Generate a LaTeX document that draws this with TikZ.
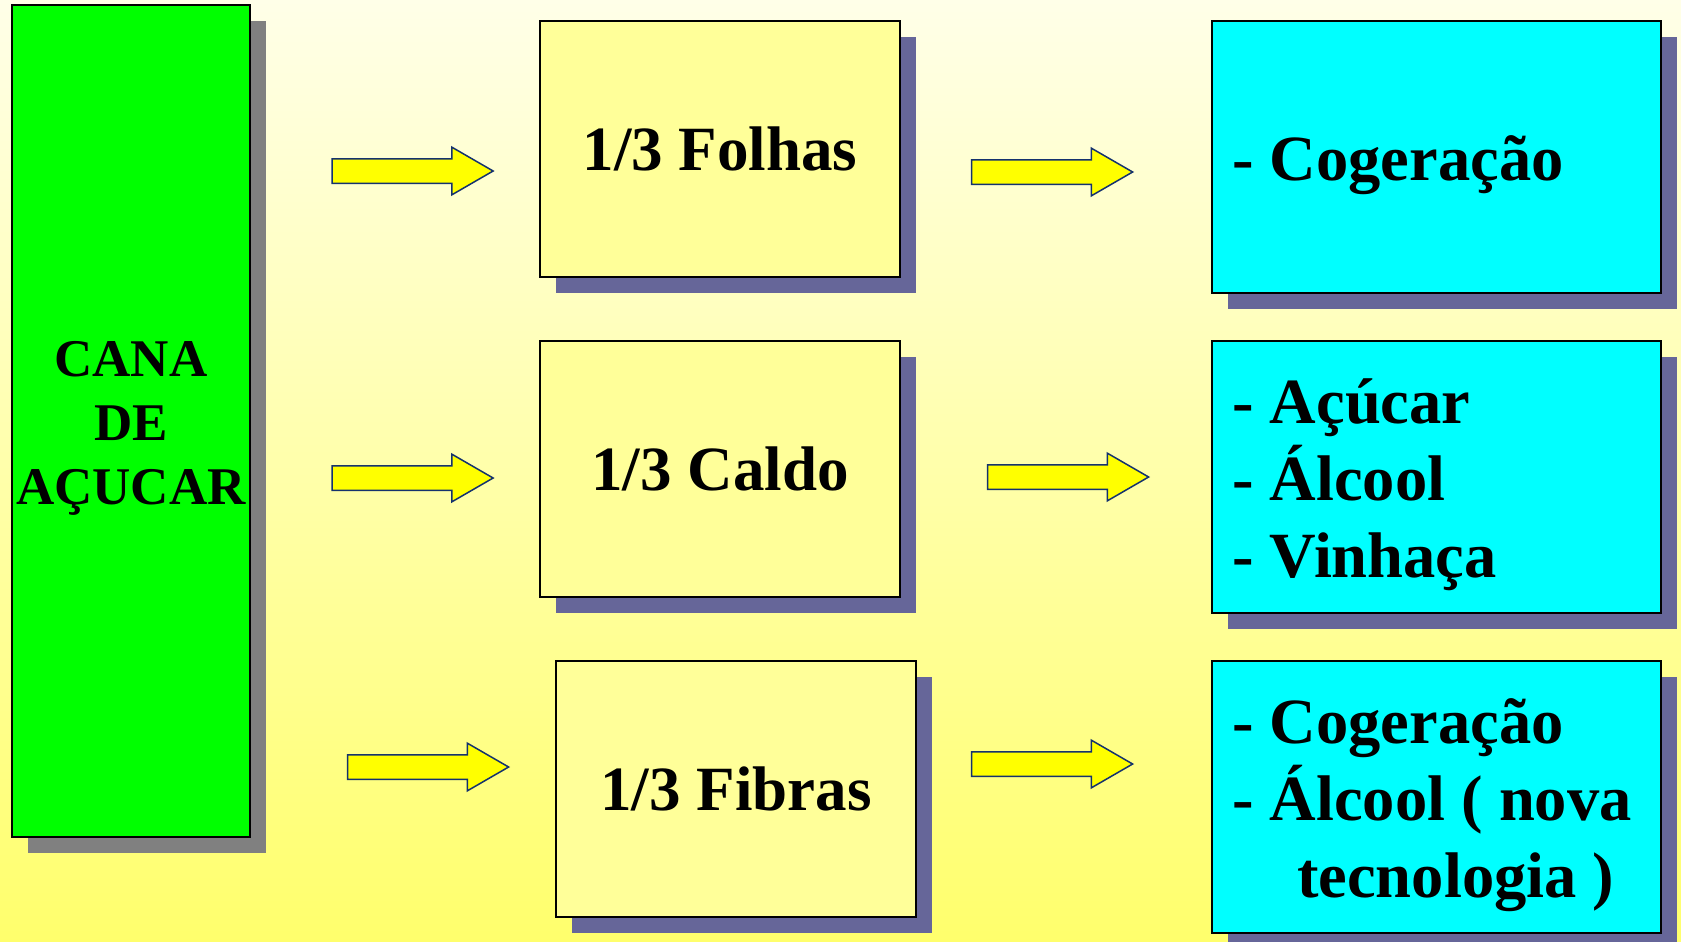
\documentclass[tikz,border=0pt]{standalone}
\usepackage{fontspec}
\setmainfont{Liberation Serif}
\usetikzlibrary{shapes.arrows,shadows}
\definecolor{bgtop}{RGB}{255,255,232}
\definecolor{bgbot}{RGB}{255,255,108}
\definecolor{boxyellow}{RGB}{255,255,153}
\definecolor{boxcyan}{RGB}{0,255,255}
\definecolor{boxgreen}{RGB}{0,255,0}
\definecolor{shadowblue}{RGB}{102,102,153}
\definecolor{shadowgray}{RGB}{128,128,128}
\definecolor{arrowline}{RGB}{20,50,110}
\definecolor{arrowfill}{RGB}{255,255,0}
\tikzset{
  panel/.style={draw=black, line width=2pt, inner sep=0pt, outer sep=0pt, anchor=north west},
  greenpanel/.style={panel, fill=boxgreen, minimum width=238pt, minimum height=832pt,
    general shadow={shadow xshift=16pt, shadow yshift=-16pt, fill=shadowgray}},
  greentext/.style={inner sep=0pt, align=center, font=\bfseries\fontsize{53}{64}\selectfont},
  yellowpanel/.style={panel, fill=boxyellow, minimum width=360pt, minimum height=256pt,
    general shadow={shadow xshift=16pt, shadow yshift=-16pt, fill=shadowblue},
    font=\bfseries\fontsize{63}{70}\selectfont},
  cyanpanel/.style={panel, fill=boxcyan, minimum width=449pt,
    general shadow={shadow xshift=16pt, shadow yshift=-16pt, fill=shadowblue}},
  cyantext/.style={inner sep=0pt, anchor=west, align=left,
    font=\bfseries\fontsize{64.5}{77}\selectfont},
  blockarrow/.style={single arrow, draw=arrowline, fill=arrowfill, line width=1.5pt,
    minimum height=161pt, inner xsep=0pt, inner ysep=11.5pt, outer sep=0pt,
    single arrow head extend=11.5pt, single arrow tip angle=60, single arrow head indent=0pt}
}
\begin{document}
\begin{tikzpicture}[x=1pt,y=-1pt]
\useasboundingbox (0,0) rectangle (1681,942);
\fill[top color=bgtop, bottom color=bgbot] (0,0) rectangle (1681,942);

% source
\node[greenpanel] (cana) at (12,5) {};
\node[greentext] (canat) at ([yshift=-7.5pt]cana.center) {CANA\\DE\\AÇUCAR};

% middle boxes
\node[yellowpanel] (folhas) at (540,21) {1/3 Folhas};
\node[yellowpanel] (caldo) at (540,341) {1/3 Caldo};
\node[yellowpanel] (fibras) at (556,661) {1/3 Fibras};

% result boxes
\node[cyanpanel, minimum height=272pt] (res1) at (1212,21) {};
\node[cyanpanel, minimum height=272pt] (res2) at (1212,341) {};
\node[cyanpanel, minimum height=272pt] (res3) at (1212,661) {};

\node[cyantext] (res1t) at (1232,165) {- Cogeração};
\node[cyantext] (res2t) at (1232,485) {- Açúcar\\- Álcool\\- Vinhaça};
\node[cyantext] (res3t) at (1232,805) {- Cogeração\\- Álcool ( nova\\\hspace*{65pt}tecnologia )};

% arrows
\node[blockarrow] (a1l) at (402,171) {};
\node[blockarrow] (a1r) at (1041.5,172) {};
\node[blockarrow] (a2l) at (402,478) {};
\node[blockarrow] (a2r) at (1057.5,477) {};
\node[blockarrow] (a3l) at (417.5,767) {};
\node[blockarrow] (a3r) at (1041.5,764) {};
\end{tikzpicture}
\end{document}
